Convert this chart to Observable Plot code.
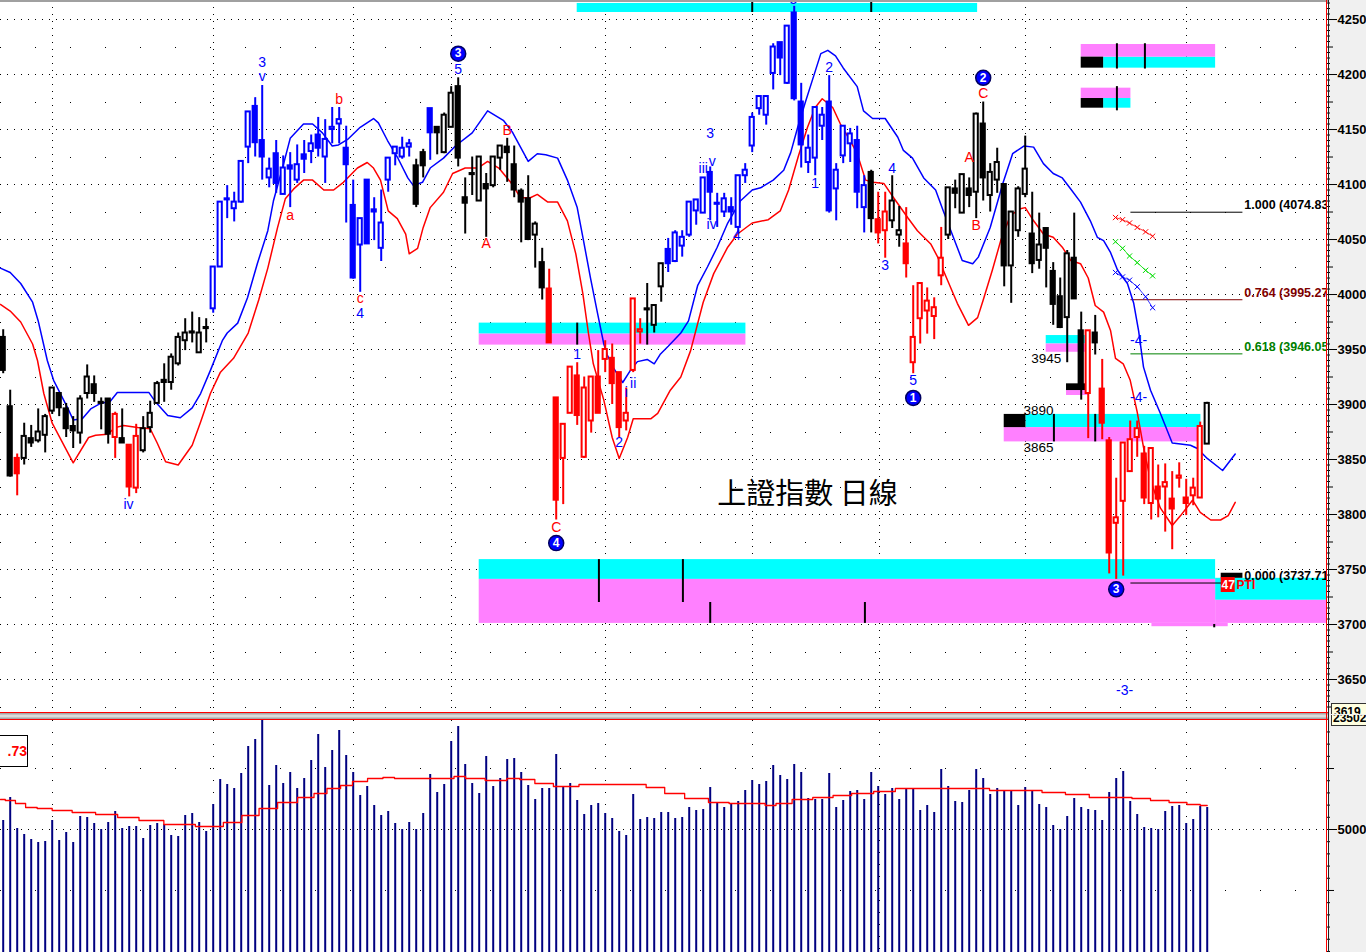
<!DOCTYPE html>
<html><head><meta charset="utf-8">
<script src="https://cdn.jsdelivr.net/npm/d3@7"></script>
<script src="https://cdn.jsdelivr.net/npm/@observablehq/plot@0.6"></script>
<style>
html,body{margin:0;padding:0;background:#fff;overflow:hidden}
#wrap{position:relative;width:1366px;height:952px;overflow:hidden;background:#fff;font-family:"Liberation Sans",Arial,sans-serif}
#axisbg{position:absolute;left:1329px;top:0;width:37px;height:952px;background:#f0f0f0}
#main{position:absolute;left:0;top:0}
#vol{position:absolute;left:0;top:720px}
.abs{position:absolute}
</style></head>
<body>
<div id="wrap">
  <div id="axisbg"></div>
  <div id="main"></div>
  <div id="vol"></div>
  <div class="abs" style="left:0;top:0;width:1329px;height:2px;background:#a0a0a0"></div>
  <div class="abs" style="left:0;top:712px;width:1329px;height:1px;background:#ff0000"></div>
  <div class="abs" style="left:0;top:713px;width:1329px;height:6px;background:linear-gradient(#9a9a9a,#e8e8e8,#9a9a9a)"></div>
  <div class="abs" style="left:0;top:719px;width:1329px;height:1px;background:#ff0000"></div>
  <div class="abs" style="left:1326px;top:0;width:1px;height:952px;background:#ff0000"></div>
  <div class="abs" style="left:1328px;top:0;width:1px;height:952px;background:#202020"></div>
  <div class="abs" style="left:1331px;top:703px;width:35px;height:10px;overflow:hidden;background:#ffffe0;border:1px solid #333;border-bottom:none;font:bold 12px 'Liberation Sans',Arial;line-height:16px;padding-left:2px">3619</div>
  <div class="abs" style="left:1331px;top:715px;width:35px;height:10px;overflow:hidden;background:#ffffe0;border:1px solid #333;border-top:none;font:bold 12px 'Liberation Sans',Arial;line-height:6px;padding-left:1px">23502</div>
  <div class="abs" style="left:-2px;top:735px;width:28px;height:30px;border:1px solid #000;background:#fff;color:#ff0000;font:bold 14px 'Liberation Sans',Arial;line-height:30px;text-align:right;padding-right:0px">.73</div>
</div>
<script>
// ---------- price data (index = trading day) ----------
const opens = [3961,3898,3851,3851,3869,3867,3872,3894,3910,3896,3880,3874,3910,3918,3902,3905,3870,3869,3863,3824,
3858,3879,3901,3922,3920,3937,3958,3965,3947,3969,3987,4025,4086,4078,4084,4134,4171,4140,4106,4128,
4091,4117,4104,4127,4130,4145,4125,4150,4155,4133,4081,4045,4104,4077,4042,4104,4128,4125,4134,4117,
4129,4169,4152,4129,4152,4189,4088,4110,4085,4100,4099,4124,4134,4118,4094,4087,4054,4029,4005,3906,
3851,3892,3926,3852,3885,3925,3941,3942,3929,3885,3931,3966,3986,3972,4007,4041,4030,4044,4054,4076,
4074,4111,4082,4075,4079,4061,4108,4135,4169,4163,4201,4229,4192,4256,4175,4120,4124,4153,4175,4096,
4126,4137,4140,4079,4111,4068,4058,4067,4054,4046,3938,3978,3985,3980,4017,4054,4096,4074,4096,4093,
4155,4090,4104,4100,4026,4058,4091,4055,4031,4060,4021,3998,3979,4033,3967,3910,3965,3914,3867,3792,
3812,3839,3870,3855,3810,3825,3825,3814,3833,3815,3817,3815,3864];
const highs = [3968,3913,3855,3883,3881,3896,3891,3915,3910,3901,3889,3908,3936,3926,3906,3905,3893,3896,3863,3882,
3889,3903,3921,3937,3946,3965,3978,3984,3979,3978,4025,4084,4099,4093,4121,4166,4179,4190,4124,4140,
4126,4129,4136,4140,4145,4161,4159,4170,4170,4153,4104,4069,4104,4088,4095,4124,4134,4143,4141,4123,
4132,4169,4152,4165,4189,4197,4106,4125,4125,4110,4125,4135,4142,4135,4096,4108,4066,4042,4023,3906,
3882,3934,3938,3925,3925,3949,3958,3955,3929,3915,3996,3978,4010,3990,4028,4051,4058,4058,4084,4086,
4106,4116,4092,4092,4088,4108,4119,4165,4180,4180,4228,4229,4244,4262,4192,4145,4170,4170,4199,4119,
4153,4151,4153,4108,4113,4093,4093,4108,4080,4079,4008,4010,4006,3997,4061,4097,4104,4109,4106,4165,
4175,4119,4133,4100,4075,4098,4144,4093,4074,4060,4029,4015,4040,4074,3984,3967,3981,3941,3870,3833,
3865,3885,3885,3862,3860,3845,3846,3839,3847,3832,3833,3884,3902];
const lows = [3928,3834,3817,3845,3861,3865,3856,3891,3889,3870,3860,3864,3905,3902,3877,3864,3851,3865,3816,3819,
3856,3874,3901,3902,3913,3935,3949,3956,3947,3956,3983,4025,4069,4066,4083,4119,4125,4104,4097,4092,
4091,4079,4101,4110,4119,4125,4101,4137,4137,4065,4014,4002,4046,4049,4030,4093,4117,4123,4125,4079,
4106,4122,4127,4128,4152,4116,4055,4090,4085,4052,4097,4113,4102,4088,4047,4049,4024,3995,3956,3795,
3809,3892,3881,3851,3874,3892,3929,3900,3870,3876,3929,3955,3954,3965,3993,4020,4029,4034,4052,4063,
4074,4067,4061,4070,4063,4055,4101,4129,4163,4154,4186,4199,4191,4176,4115,4110,4108,4140,4074,4067,
4119,4120,4078,4056,4056,4046,4033,4060,4043,4015,3928,3955,3964,3959,4008,4050,4078,4074,4079,4069,
4085,4075,4092,4007,3992,4052,4088,4019,4023,4006,3972,3969,3938,3996,3904,3869,3945,3868,3746,3741,
3744,3839,3852,3809,3795,3797,3784,3768,3824,3799,3808,3815,3864];
const closes = [3931,3835,3837,3871,3865,3875,3889,3915,3897,3878,3876,3905,3925,3910,3901,3873,3891,3865,3825,3871,
3878,3892,3919,3920,3943,3961,3965,3966,3965,3970,4025,4084,4087,4084,4121,4166,4138,4125,4114,4101,
4115,4114,4118,4123,4137,4133,4141,4152,4159,4118,4015,4069,4046,4075,4065,4124,4134,4133,4137,4082,
4117,4147,4147,4163,4183,4124,4083,4109,4125,4096,4125,4135,4129,4095,4084,4050,4064,4006,3956,3813,
3882,3934,3890,3915,3925,3892,3950,3919,3879,3892,3996,3968,3987,3990,4028,4028,4056,4052,4084,4086,
4106,4093,4083,4087,4075,4108,4113,4161,4180,4180,4225,4215,4244,4178,4136,4133,4170,4163,4076,4113,
4153,4146,4093,4099,4069,4056,4075,4085,4058,4028,3961,4010,3994,3988,4033,4097,4092,4109,4090,4164,
4106,4111,4120,4026,4075,4096,4114,4028,4045,4042,3991,3970,4037,3996,3915,3967,3956,3883,3765,3797,
3865,3868,3878,3815,3860,3814,3829,3805,3835,3810,3824,3880,3901];
// wave-count colouring of the candles: [first day, last day, segment]
const waveSegments = [[0,1,"k"],[2,2,"r"],[3,15,"k"],[16,16,"r"],[17,17,"k"],[18,19,"r"],[20,29,"k"],[30,58,"b"],
[59,60,"k"],[61,61,"b"],[62,77,"k"],[78,91,"r"],[92,94,"k"],[95,123,"b"],[124,124,"k"],[125,126,"r"],
[127,128,"k"],[129,134,"r"],[135,154,"k"],[155,155,"r"],[156,156,"k"],[157,171,"r"],[172,172,"k"]];
const volumes = [51476,55248,50164,49180,48360,47868,48032,51476,48196,49508,47868,52132,51968,50984,50000,51148,52952,50164,50492,50492,
48524,50656,50984,50820,49016,48852,52296,52624,51148,49672,54100,58200,57380,56724,59184,63612,64760,67876,57216,60496,
57544,59348,56724,58364,61316,65580,60168,62956,66236,62136,59348,55576,57052,53936,52296,52952,50984,50000,51148,50000,
52624,59020,56068,57380,64432,66892,60660,57544,55904,61972,57052,58364,61480,61644,59348,57216,54920,56724,56724,62300,
57052,57544,54756,52460,53936,54264,52624,51804,49672,49016,55740,51640,51968,51804,52788,52788,51804,51968,53608,53116,
53280,56888,54264,53608,54100,54592,56396,58036,57380,57872,60496,58856,58200,60660,59348,55084,54920,54920,59184,53608,
54756,56232,56396,54920,59348,57052,55740,56724,54920,56560,56560,53116,53936,52788,59840,57052,54592,54428,56396,59840,
58364,55740,56724,56396,56396,53936,56888,56396,54100,53608,50656,50000,52132,55084,53608,53280,53116,51476,56068,58364,
59512,54592,52460,50328,50164,50000,52952,53772,53936,50984,51640,53772,53608];
// envelope lines [day, value]
const upperLine = [[-0.4,4024],[1.0,4020],[2.5,4010],[4.2,3993],[5.0,3976],[6.3,3940],[7.2,3922],[9.2,3897],[10.0,3886],[11.3,3887],[12.5,3896],[13.9,3901],[15.3,3903],[16.3,3911],[19.2,3911],[20.8,3911],[21.8,3902],[23.5,3890],[25.3,3888],[27.0,3897],[28.2,3910],[29.6,3931],[31.3,3958],[32.0,3965],[33.5,3974],[34.9,3997],[36.3,4028],[37.8,4058],[38.6,4085],[39.9,4115],[41.0,4142],[42.9,4155],[44.2,4155],[45.6,4147],[47.0,4135],[47.9,4136],[49.2,4141],[51.0,4152],[52.9,4160],[53.6,4156],[54.9,4140],[56.3,4125],[57.8,4106],[58.6,4099],[59.9,4102],[61.0,4115],[62.9,4124],[64.6,4135],[67.0,4147],[69.2,4167],[71.5,4158],[72.8,4147],[73.9,4134],[75.0,4121],[76.3,4128],[77.5,4127],[79.2,4124],[80.6,4104],[82.0,4079],[82.9,4049],[83.9,4015],[84.9,3983],[85.8,3955],[86.3,3945],[87.2,3933],[88.5,3920],[89.6,3931],[90.6,3939],[92.0,3941],[93.0,3937],[93.9,3946],[95.0,3953],[96.8,3965],[97.9,3976],[99.2,4008],[100.6,4025],[102.0,4043],[103.5,4065],[105.3,4085],[107.0,4095],[108.2,4097],[110.0,4104],[111.5,4113],[112.5,4129],[113.5,4152],[114.6,4175],[115.8,4199],[116.8,4219],[117.8,4222],[118.9,4217],[120.0,4206],[122.0,4189],[122.9,4167],[124.2,4160],[126.0,4160],[127.8,4143],[128.6,4131],[129.9,4124],[131.5,4106],[133.2,4095],[134.3,4076],[135.8,4051],[137.0,4031],[138.5,4028],[139.3,4034],[141.0,4061],[142.8,4101],[144.2,4128],[145.8,4135],[147.2,4134],[148.6,4119],[150.0,4110],[151.3,4106],[152.5,4096],[153.9,4084],[155.3,4067],[156.3,4052],[157.2,4049],[158.2,4038],[159.2,4022],[160.6,4010],[161.5,3992],[162.2,3967],[162.9,3934],[163.9,3913],[165.3,3892],[167.0,3865],[168.2,3864],[169.6,3863],[170.6,3860],[172.0,3851],[174.2,3840],[176.0,3855]];
const lowerLine = [[-0.4,3991],[1.0,3985],[2.5,3975],[4.2,3955],[4.9,3940],[5.8,3910],[7.0,3883],[10.0,3847],[12.2,3870],[13.2,3872],[14.9,3873],[16.0,3879],[17.2,3881],[19.2,3879],[21.0,3878],[22.0,3865],[23.2,3848],[25.0,3845],[27.0,3863],[28.2,3884],[29.6,3910],[31.0,3929],[32.9,3942],[35.0,3965],[36.5,3995],[37.8,4024],[39.2,4061],[40.3,4087],[41.5,4096],[42.9,4104],[44.2,4104],[45.8,4095],[47.2,4095],[48.6,4102],[50.6,4115],[52.0,4120],[52.9,4115],[53.9,4104],[55.0,4076],[56.3,4069],[57.5,4055],[58.0,4037],[59.2,4042],[60.0,4061],[61.0,4079],[62.9,4093],[64.2,4110],[66.0,4115],[67.8,4115],[69.2,4121],[70.8,4115],[72.5,4102],[73.9,4088],[75.3,4088],[76.3,4091],[77.8,4084],[79.2,4084],[80.6,4067],[81.8,4037],[82.8,4001],[83.6,3965],[84.3,3937],[85.8,3904],[87.0,3870],[88.0,3851],[89.2,3870],[90.0,3887],[92.5,3887],[93.5,3892],[95.3,3913],[96.8,3925],[98.2,3949],[100.0,3993],[101.5,4019],[103.5,4043],[104.9,4055],[107.0,4065],[109.3,4068],[111.0,4076],[112.2,4095],[113.6,4126],[114.9,4152],[116.0,4170],[117.0,4178],[118.5,4170],[119.6,4155],[121.0,4140],[122.0,4128],[123.2,4104],[124.3,4102],[125.8,4101],[127.2,4088],[129.2,4070],[130.6,4058],[132.5,4046],[133.5,4034],[134.9,4013],[136.3,3992],[137.9,3972],[139.2,3979],[140.0,3995],[141.3,4022],[142.5,4049],[143.9,4072],[145.3,4078],[146.0,4079],[147.2,4067],[148.6,4055],[150.0,4052],[151.3,4043],[152.5,4031],[153.9,4028],[155.0,4015],[156.0,3990],[157.2,3984],[158.2,3967],[158.9,3942],[160.0,3937],[161.0,3922],[162.0,3893],[162.9,3861],[163.9,3831],[165.3,3806],[167.0,3790],[168.2,3799],[169.9,3813],[171.0,3802],[172.5,3795],[173.9,3795],[175.0,3799],[176.0,3811]];
const volumeMA = [[-0.4,54920],[1.0,54756],[2.5,54264],[3.9,53608],[5.8,53444],[8.2,53116],[11.5,52788],[14.9,52460],[17.8,51968],[21.0,51476],[24.9,50820],[30.0,50492],[32.9,51148],[35.3,52296],[37.8,53444],[40.6,54428],[43.5,55248],[45.3,55904],[47.2,56724],[49.2,57216],[50.6,57872],[53.5,58364],[55.0,58528],[56.8,58364],[63.5,58364],[65.3,58692],[66.8,58364],[70.9,58036],[73.0,58364],[74.6,58200],[77.3,57544],[79.9,57052],[84.6,57380],[90.5,57380],[93.2,56888],[95.8,55904],[98.9,55084],[102.6,54428],[104.8,54264],[108.5,54264],[109.2,53936],[111.6,54264],[113.8,54920],[117.5,55248],[119.6,55576],[122.8,55904],[125.9,56232],[129.0,56724],[133.3,56724],[139.0,56724],[142.8,56400],[146.8,56396],[150.0,56068],[153.5,55740],[156.8,55248],[159.6,55248],[162.9,55084],[164.9,54756],[168.2,54428],[170.0,54100],[172.0,53936]];
// support / resistance zones [from day, to day, low, high]
const cyanZones = [[82.0,139.2,4256.4,4264.6],[68.0,106.1,3964,3974],[68.0,173.2,3741,3759],[173.2,189.1,3722,3742],[146.1,171.1,3879,3891],[149.0,155.0,3955,3962.7],[157.2,173.2,4205.8,4215.8],[157.2,161.1,4169.4,4178.2]];
const magentaZones = [[68.0,106.1,3954,3964],[68.0,173.2,3701,3741],[173.2,189.1,3701,3722],[164.1,175.0,3698,3701],[143.0,171.1,3866,3879],[149.0,155.0,3947.5,3955],[151.9,155.0,3908.2,3912.7],[154.0,173.2,4215.8,4227.3],[154.0,161.1,4178.2,4187.6]];
const blackZones = [[143.0,146.1,3879,3891],[151.9,154.9,3912.7,3918.8],[154.0,157.2,4205.8,4215.8],[154.0,157.2,4169.4,4178.2],[174.0,177.1,3742,3746.6]];
const zoneMarks = [[107.0,4256.4,4267.3],[124.0,4256.4,4267.3],[82.0,3954,3974],[85.1,3720,3759],[97.1,3720,3759],[101.0,3701,3720],[123.1,3701,3720],[150.1,3866,3891],[156.0,3866,3891],[159.1,4205,4228],[163.1,4205,4228],[159.1,4167,4189],[173.0,3697,3700]];
// Fibonacci retracement levels
const fibLevels = [4074.83, 3995.27, 3946.05, 3737.71];
const fibRatios = ["1.000", "0.764", "0.618", "0.000"];
const fibColors = ["#000000", "#800000", "#008000", "#000000"];
// projection crosses [day, value]
const crossRed = [[158.9,4070],[159.9,4068],[160.9,4065],[162.0,4061],[163.2,4057],[164.2,4053]];
const crossGreen = [[158.9,4048],[159.9,4042],[160.9,4035],[162.0,4029],[163.2,4022],[164.2,4017]];
const crossBlue = [[158.9,4020],[159.9,4016],[160.9,4013],[162.0,4007],[163.2,3998],[164.2,3988]];
// Elliott wave labels [day, value, text, colour]
const waveLabels = [[37,4211,"3","b"],[37,4198,"v","b"],[48,4177,"b","r"],[41,4072,"a","r"],[51,3996,"c","r"],[51,3983,"4","b"],
[17.9,3809,"iv","b"],[65,4205,"5","b"],[69,4046,"A","r"],[72,4149,"B","r"],[79,3788,"C","r"],[82,3945,"1","b"],
[89,3911,"i","b"],[90,3919,"ii","b"],[88,3865,"2","b"],[101,4146,"3","b"],[100,4115,"iii","b"],[101.3,4121,"v","b"],
[101.2,4064,"iv","b"],[104.8,4054,"4","b"],[112.9,4268,"5","b"],[116,4101,"1","b"],[118,4206,"2","b"],[126,4026,"3","b"],
[127,4115,"4","b"],[130,3922,"5","b"],[138,4125,"A","r"],[139,4063,"B","r"],[140,4183,"C","r"],
[162.2,3958,"-4-","b"],[162.2,3906,"-4-","b"],[160.2,3640,"-3-","b"]];
const priceNotes = [[149,3942,"3945"],[147.9,3894,"3890"],[147.9,3861,"3865"]];
const circledLabels = [[65,4219,"3"],[79,3774,"4"],[130,3906,"1"],[140,4197,"2"],[159,3732,"3"]];
const priceTicks = [3650,3700,3750,3800,3850,3900,3950,4000,4050,4100,4150,4200,4250];
const priceMid = [3625,3675,3725,3775,3825,3875,3925,3975,4025,4075,4125,4175,4225];
const volTicksLabeled = [50000];
const volTicksMajor = [40000,60000];
const dayGrid = [7.1,30.1,50.1,64.1,86.1,107.1,125.2,146.1,169.1];
const TITLE = "上證指數 日線";

// ---------- build ----------
const COLORS = {k:"#000000", b:"#0000ff", r:"#ff0000"};
const segOf = i => { for (const [a,b,c] of waveSegments) if (i >= a && i <= b) return c; return "k"; };
const candles = opens.map((o,i) => ({i, o, h: highs[i], l: lows[i], c: closes[i], col: COLORS[segOf(i)]}));
const zone = a => ({x1:a[0], x2:a[1], y1:a[2], y2:a[3]});
const FONT = "'Liberation Sans', Arial, sans-serif";
const XD = [-0.386, 189.04];
const minorPrice = d3.range(3625, 4266, 5).filter(v => v % 25 !== 0);
const fibs = fibLevels.map((v,k) => ({v, r: fibRatios[k], col: fibColors[k], x2: k === 3 ? 174.9 : 177.1}));

const main = Plot.plot({
  width: 1366, height: 712,
  marginLeft: 0, marginRight: 40, marginTop: 0, marginBottom: 0,
  x: {domain: XD, axis: null},
  y: {domain: [3620, 4267.3]},
  color: {type: "identity"},
  style: {background: "transparent", fontFamily: FONT, overflow: "hidden"},
  marks: [
    Plot.ruleY(priceTicks, {stroke: "#000", strokeDasharray: "1,6", shapeRendering: "crispEdges"}),
    Plot.ruleY(priceMid, {stroke: "#000", strokeDasharray: "1,34", shapeRendering: "crispEdges"}),
    Plot.ruleX(dayGrid, {stroke: "#000", strokeDasharray: "1,6", shapeRendering: "crispEdges"}),
    Plot.rect(cyanZones.map(zone), {x1:"x1", x2:"x2", y1:"y1", y2:"y2", fill: "#00ffff"}),
    Plot.rect(magentaZones.map(zone), {x1:"x1", x2:"x2", y1:"y1", y2:"y2", fill: "#ff80ff"}),
    Plot.rect(blackZones.map(zone), {x1:"x1", x2:"x2", y1:"y1", y2:"y2", fill: "#000"}),
    Plot.ruleX(zoneMarks, {x: d => d[0], y1: d => d[1], y2: d => d[2], stroke: "#000", strokeWidth: 2}),
    Plot.ruleY(fibs, {y: "v", x1: 161.1, x2: "x2", stroke: "col", strokeWidth: 1}),
    Plot.line(upperLine, {x: d => d[0], y: d => d[1], stroke: "#0000ff", strokeWidth: 1.5}),
    Plot.line(lowerLine, {x: d => d[0], y: d => d[1], stroke: "#ff0000", strokeWidth: 1.5}),
    Plot.dot(crossRed, {x: d => d[0], y: d => d[1], symbol: "times", r: 2.5, stroke: "#ff0000", strokeWidth: 1}),
    Plot.dot(crossGreen, {x: d => d[0], y: d => d[1], symbol: "times", r: 2.5, stroke: "#00dd00", strokeWidth: 1}),
    Plot.dot(crossBlue, {x: d => d[0], y: d => d[1], symbol: "times", r: 2.5, stroke: "#0000ff", strokeWidth: 1}),
    Plot.line(crossRed, {x: d => d[0], y: d => d[1], stroke: "#ff0000", strokeWidth: 0.8}),
    Plot.line(crossGreen, {x: d => d[0], y: d => d[1], stroke: "#00dd00", strokeWidth: 0.8}),
    Plot.line(crossBlue, {x: d => d[0], y: d => d[1], stroke: "#0000ff", strokeWidth: 0.8}),
    Plot.ruleX(candles, {x: "i", y1: "l", y2: "h", stroke: "col", strokeWidth: 2}),
    Plot.rect(candles, {x1: d => d.i - 0.3, x2: d => d.i + 0.3, y1: "o", y2: "c",
      fill: d => d.c >= d.o ? "#ffffff" : d.col, stroke: "col", strokeWidth: 2}),
    Plot.rect([[174.0,176.0,3729.1,3742.7]].map(zone), {x1:"x1", x2:"x2", y1:"y1", y2:"y2", fill: "#ff0000"}),
    Plot.text(["47"], {x: 175, y: 3736, text: d => d, fill: "#fff", fontSize: 12, fontWeight: "bold"}),
    Plot.text(["PTI"], {x: 176.2, y: 3736, text: d => d, fill: "#ff0000", fontSize: 12, fontWeight: "bold", textAnchor: "start"}),
    Plot.text(fibs, {x: 177.3, y: "v", text: d => `${d.r} (${d.v.toFixed(2)})`, fill: "col", fontSize: 12.5, fontWeight: "bold", textAnchor: "start", dy: -7, clip: true}),
    Plot.text(waveLabels, {x: d => d[0], y: d => d[1], text: d => d[2], fill: d => COLORS[d[3]], fontSize: 14}),
    Plot.text(priceNotes, {x: d => d[0], y: d => d[1], text: d => d[2], fill: "#000", fontSize: 13.5}),
    Plot.dot(circledLabels, {x: d => d[0], y: d => d[1], r: 7.5, fill: "#0000ff", stroke: "#000060", strokeWidth: 1.5}),
    Plot.text(circledLabels, {x: d => d[0], y: d => d[1], text: d => d[2], fill: "#fff", fontSize: 12, fontWeight: "bold"}),
    Plot.text([TITLE], {x: 114.9, y: 3818, text: d => d, fontSize: 29, fill: "#000", fontFamily: "'Noto Sans CJK TC', 'Noto Sans CJK SC', sans-serif"}),
    Plot.axisY({anchor: "right", ticks: minorPrice, tickSize: 3, tickFormat: () => "", label: null}),
    Plot.axisY({anchor: "right", ticks: priceMid, tickSize: 6, tickFormat: () => "", label: null}),
    Plot.axisY({anchor: "right", ticks: priceTicks, tickSize: 10, tickPadding: 1, tickFormat: d => String(d),
      fontSize: 13, fontWeight: "bold", fill: "#000", label: null})
  ]
});
document.getElementById("main").appendChild(main);

const volRows = volumes.map((v,i) => ({i, v}));
const VOL_DOMAIN = [29828, 67876];
const minorVol = d3.range(30000, 68000, 2000);
const vol = Plot.plot({
  width: 1366, height: 232,
  marginLeft: 0, marginRight: 40, marginTop: 0, marginBottom: 0,
  x: {domain: XD, axis: null},
  y: {domain: VOL_DOMAIN},
  style: {background: "transparent", fontFamily: FONT, overflow: "hidden"},
  marks: [
    Plot.ruleX(dayGrid, {stroke: "#000", strokeDasharray: "1,11", shapeRendering: "crispEdges"}),
    Plot.ruleY(volTicksLabeled, {stroke: "#000", strokeDasharray: "1,6", shapeRendering: "crispEdges"}),
    Plot.ruleY(volTicksMajor, {stroke: "#000", strokeDasharray: "1,34", shapeRendering: "crispEdges"}),
    Plot.ruleX(volRows, {x: "i", y1: VOL_DOMAIN[0], y2: "v", stroke: "#000080", strokeWidth: 2}),
    Plot.line(volumeMA, {x: d => d[0], y: d => d[1], stroke: "#ff0000", strokeWidth: 1.3, curve: "step"}),
    Plot.axisY({anchor: "right", ticks: minorVol, tickSize: 3, tickFormat: () => "", label: null}),
    Plot.axisY({anchor: "right", ticks: volTicksMajor, tickSize: 7, tickFormat: () => "", label: null}),
    Plot.axisY({anchor: "right", ticks: volTicksLabeled, tickSize: 10, tickPadding: 1, tickFormat: d => String(d),
      fontSize: 13, fontWeight: "bold", fill: "#000", label: null})
  ]
});
document.getElementById("vol").appendChild(vol);
</script>
</body></html>
